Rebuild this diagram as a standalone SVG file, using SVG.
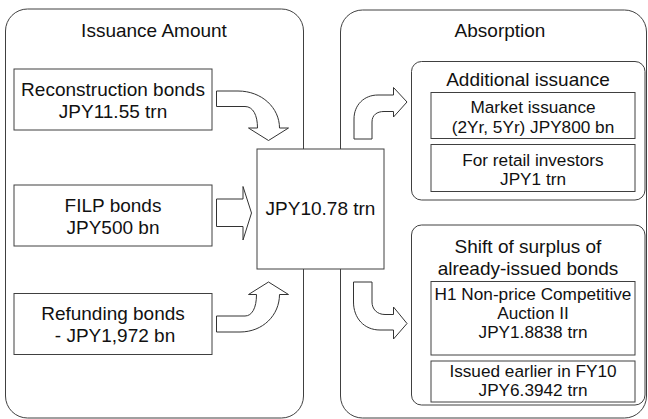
<svg xmlns="http://www.w3.org/2000/svg" width="648" height="419" viewBox="0 0 648 419">
<style>
  .panel { fill: #ffffff; stroke: #404040; stroke-width: 1; }
  .box { fill: #ffffff; stroke: #404040; stroke-width: 1; }
  .arrow { fill: #ffffff; stroke: #333333; stroke-width: 1; stroke-linejoin: miter; }
  text { font-family: "Liberation Sans", Arial, sans-serif; fill: #111111; text-anchor: middle; }
  .t19 { font-size: 19px; }
  .t17 { font-size: 17.2px; }
</style>
<rect width="648" height="419" fill="#ffffff"/>

<g id="panel-issuance">
  <rect class="panel" x="5.5" y="9" width="298" height="409" rx="22" ry="22"/>
  <text class="t19" x="154" y="37">Issuance Amount</text>
</g>

<g id="panel-absorption">
  <rect class="panel" x="340.5" y="10" width="306" height="408" rx="22" ry="22"/>
  <text class="t19" x="500" y="37">Absorption</text>
</g>

<g id="connectors">
  <path class="arrow" d="M216.5,91 L238,91 C262,91 279.5,108 279.5,128 L288.5,128 L268.5,140.5 L248.5,128 L257.5,128 C257.5,115 253,106.5 245,106.5 L216.5,106.5 Z"/>
  <path class="arrow" d="M216.5,199 L243,199 L243,186.5 L251.5,213 L243,240 L243,226.5 L216.5,226.5 Z"/>
  <path class="arrow" d="M216.5,332 L240,332 C263,332 279.5,315 279.5,294.5 L288.5,294.5 L268.5,282 L248.5,294.5 L256.5,294.5 C256.5,308 252,316 245,316 L216.5,316 Z"/>
  <path class="arrow" d="M354,139 L354,119 C354,105 364,95 378,95 L393.5,95 L393.5,87.5 L407,102 L393.5,117 L393.5,111.5 L384,111.5 C377,111.5 372,115 372,122 L372,139 Z"/>
  <path class="arrow" d="M353.5,282 L372,282 L372,302 C372,309 377,314.5 385,314.5 L393.5,314.5 L393.5,307 L407,323.5 L393.5,339 L393.5,330 L380,330 C364,330 353.5,318 353.5,302 Z"/>
</g>

<g id="node-reconstruction">
  <rect class="box" x="14" y="69" width="198" height="61"/>
  <text class="t19" x="113" y="96">Reconstruction bonds</text>
  <text class="t19" x="113" y="118">JPY11.55 trn</text>
</g>

<g id="node-filp">
  <rect class="box" x="14" y="185" width="198" height="61"/>
  <text class="t19" x="113" y="211.5">FILP bonds</text>
  <text class="t19" x="113" y="233.5">JPY500 bn</text>
</g>

<g id="node-refunding">
  <rect class="box" x="14" y="293.5" width="198" height="61"/>
  <text class="t19" x="113" y="319.5">Refunding bonds</text>
  <text class="t19" x="115" y="341.5">- JPY1,972 bn</text>
</g>

<g id="node-total">
  <rect class="box" x="257" y="149" width="127" height="120"/>
  <text class="t19" x="320.5" y="215">JPY10.78 trn</text>
</g>

<g id="node-additional">
  <rect class="box" x="411.5" y="61.5" width="233.5" height="138.5" rx="10" ry="10"/>
  <text class="t19" x="528" y="86">Additional issuance</text>
</g>

<g id="node-market">
  <rect class="box" x="431" y="92.5" width="204" height="46"/>
  <text class="t17" x="533" y="113">Market issuance</text>
  <text class="t17" x="533" y="132.5">(2Yr, 5Yr) JPY800 bn</text>
</g>

<g id="node-retail">
  <rect class="box" x="431" y="144.5" width="204" height="47"/>
  <text class="t17" x="533" y="165.5">For retail investors</text>
  <text class="t17" x="533" y="185">JPY1 trn</text>
</g>

<g id="node-shift">
  <rect class="box" x="411.5" y="225" width="233.5" height="180" rx="10" ry="10"/>
  <text class="t19" x="528" y="253">Shift of surplus of</text>
  <text class="t19" x="528" y="274.5">already-issued bonds</text>
</g>

<g id="node-h1">
  <rect class="box" x="431" y="281.5" width="204" height="73.5"/>
  <text class="t17" x="533" y="300">H1 Non-price Competitive</text>
  <text class="t17" x="533" y="319">Auction II</text>
  <text class="t17" x="533" y="338">JPY1.8838 trn</text>
</g>

<g id="node-fy10">
  <rect class="box" x="431" y="361" width="204" height="41"/>
  <text class="t17" x="533" y="377">Issued earlier in FY10</text>
  <text class="t17" x="533" y="396">JPY6.3942 trn</text>
</g>
</svg>
